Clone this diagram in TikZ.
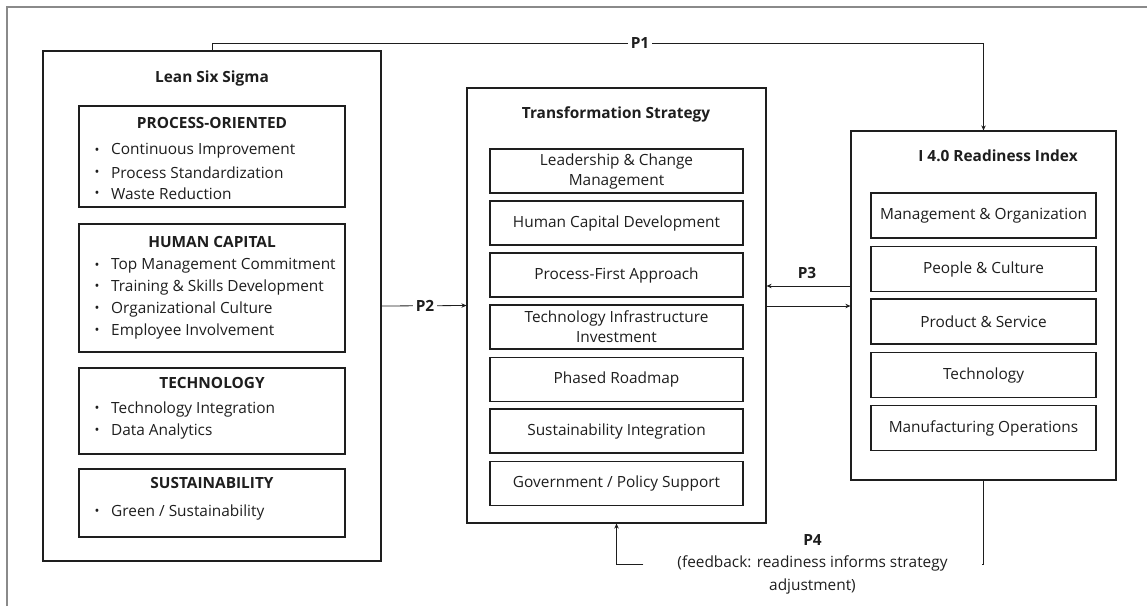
\documentclass[tikz,border=0pt]{standalone}
\usepackage{fontspec}
\setmainfont{Open Sans}
\usetikzlibrary{arrows.meta}
\definecolor{ink}{HTML}{1E1E1E}
\definecolor{framegray}{HTML}{8A8A8A}
\tikzset{
  box/.style={draw=ink, line width=1.2pt, rectangle, inner sep=0pt, fill=white},
  inbox/.style={draw=ink, line width=1.1pt, rectangle, inner sep=0pt, align=center,
                font=\fontsize{15.4}{21}\selectfont, text=ink, minimum width=#1},
  inbox/.default=253pt,
  ttl/.style={font=\bfseries\fontsize{15.4}{21}\selectfont, text=ink, inner sep=0pt},
  item/.style={font=\fontsize{15.4}{21}\selectfont, text=ink, anchor=west, inner sep=0pt},
  bul/.style={font=\fontsize{13}{14}\selectfont, text=ink, inner sep=0pt},
  conn/.style={draw=ink, line width=0.8pt},
  tip/.style={-{Stealth[length=5pt,width=4.5pt]}},
  lbl/.style={font=\bfseries\fontsize{15.4}{21}\selectfont, text=ink, fill=white, inner sep=3pt},
}
\begin{document}
\begin{tikzpicture}[x=1pt,y=-1pt]
\useasboundingbox (0,0) rectangle (1147,606);
% outer frame (top and left edges only)
\coordinate (fBL) at (7,606);
\coordinate (fTL) at (7,7);
\coordinate (fTR) at (1147,7);
\draw[framegray, line width=1.5pt] (fBL) -- (fTL) -- (fTR);

% ---------- Lean Six Sigma ----------
\node[box, minimum width=338pt, minimum height=510pt] (lss) at (212,306) {};
\node[ttl] (lssT) at (212,78) {Lean Six Sigma};

\node[box, minimum width=266pt, minimum height=101pt] (po) at (212,156.5) {};
\node[ttl] (poT) at (212,123) {PROCESS-ORIENTED};
\node[bul] (pob1) at (97,151) {•};
\node[item] (poi1) at (111,151) {Continuous Improvement};
\node[bul] (pob2) at (97,173) {•};
\node[item] (poi2) at (111,173) {Process Standardization};
\node[bul] (pob3) at (97,194) {•};
\node[item] (poi3) at (111,194) {Waste Reduction};

\node[box, minimum width=266pt, minimum height=128pt] (hc) at (212,288) {};
\node[ttl] (hcT) at (212,242) {HUMAN CAPITAL};
\node[bul] (hcb1) at (97,266) {•};
\node[item] (hci1) at (111,266) {Top Management Commitment};
\node[bul] (hcb2) at (97,287.5) {•};
\node[item] (hci2) at (111,287.5) {Training \& Skills Development};
\node[bul] (hcb3) at (97,309) {•};
\node[item] (hci3) at (111,309) {Organizational Culture};
\node[bul] (hcb4) at (97,331) {•};
\node[item] (hci4) at (111,331) {Employee Involvement};

\node[box, minimum width=266pt, minimum height=86pt] (te) at (212,411) {};
\node[ttl] (teT) at (212,383) {TECHNOLOGY};
\node[bul] (teb1) at (97,409) {•};
\node[item] (tei1) at (111,409) {Technology Integration};
\node[bul] (teb2) at (97,431) {•};
\node[item] (tei2) at (111,431) {Data Analytics};

\node[box, minimum width=266pt, minimum height=68pt] (su) at (212,503) {};
\node[ttl] (suT) at (212,483) {SUSTAINABILITY};
\node[bul] (sub1) at (97,512) {•};
\node[item] (sui1) at (111,512) {Green / Sustainability};

% ---------- Transformation Strategy ----------
\node[box, minimum width=299pt, minimum height=435pt] (ts) at (616.5,305.5) {};
\node[ttl] (tsT) at (616,114) {Transformation Strategy};
\node[inbox, minimum height=44pt] (ts1) at (616.5,171) {Leadership \& Change\\[-1pt]Management};
\node[inbox, minimum height=44pt] (ts2) at (616.5,223) {Human Capital Development};
\node[inbox, minimum height=44pt] (ts3) at (616.5,275) {Process-First Approach};
\node[inbox, minimum height=44pt] (ts4) at (616.5,327) {Technology Infrastructure\\[-1pt]Investment};
\node[inbox, minimum height=44pt] (ts5) at (616.5,379.5) {Phased Roadmap};
\node[inbox, minimum height=44pt] (ts6) at (616.5,431) {Sustainability Integration};
\node[inbox, minimum height=44pt] (ts7) at (616.5,483.5) {Government / Policy Support};

% ---------- I 4.0 Readiness Index ----------
\node[box, minimum width=265pt, minimum height=349pt] (ri) at (983.5,305.5) {};
\node[ttl] (riT) at (998,156) {I 4.0 Readiness Index};
\node[inbox=225pt, minimum height=45pt] (ri1) at (983.5,215.5) {Management \& Organization};
\node[inbox=225pt, minimum height=45pt] (ri2) at (983.5,269) {People \& Culture};
\node[inbox=225pt, minimum height=45pt] (ri3) at (983.5,321.5) {Product \& Service};
\node[inbox=225pt, minimum height=45pt] (ri4) at (983.5,375) {Technology};
\node[inbox=225pt, minimum height=45pt] (ri5) at (983.5,428) {Manufacturing Operations};

% ---------- Connectors ----------
% P1
\coordinate (p1a) at (212,43);
\coordinate (p1b) at (983.5,43);
\draw[conn, tip] (lss.north) -- (p1a) -- (p1b) -- (ri.north);
\node[lbl] (p1) at (640,43) {P1};

% P2
\draw[conn, tip] (lss.east) -- (ts.west);
\node[lbl] (p2) at (425,306) {P2};

% Strategy -> Readiness
\draw[conn, tip] (ts.east |- 0,306) -- (ri.west |- 0,306);

% P3
\draw[conn, tip] (ri.west |- 0,286) -- (ts.east |- 0,286);
\node[ttl] (p3) at (807,273) {P3};

% P4 feedback
\node[align=center, text=ink, inner sep=0pt, minimum width=338pt,
      font=\fontsize{15.4}{22.5}\selectfont] (fb) at (812.5,564)
  {\textbf{P4}\\(feedback: readiness informs strategy\\adjustment)};
\draw[conn] (ri.south) |- (fb.east);
\draw[conn, tip] (fb.west) -| (ts.south);
\end{tikzpicture}
\end{document}
